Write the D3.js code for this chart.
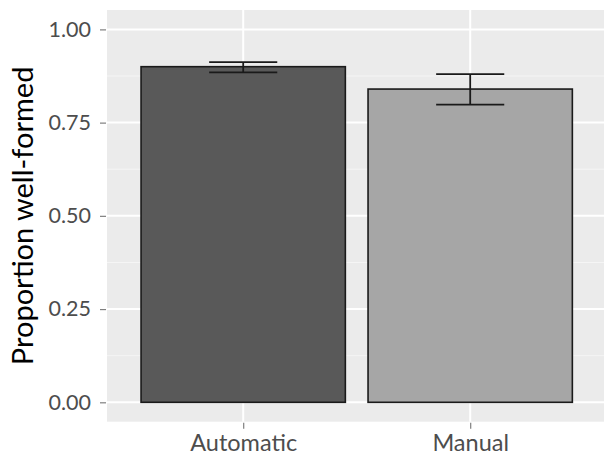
<!DOCTYPE html>
<html>
<head>
<meta charset="utf-8">
<script src="https://cdn.jsdelivr.net/npm/d3@7"></script>
<style>
  html, body { margin: 0; padding: 0; background: #fff; }
  svg { display: block; }
  text { font-family: Lato, "Open Sans", sans-serif; }
</style>
</head>
<body>
<svg id="chart" width="604" height="457"></svg>
<script>
// Proportion of well-formed items per condition, with error bar limits
const categories = ["Automatic", "Manual"];
const means = [0.900, 0.840];
const lower = [0.885, 0.798];
const upper = [0.912, 0.880];
const fills = ["#595959", "#a6a6a6"];
const yTicks = [0, 0.25, 0.5, 0.75, 1.0];
const yTickLabels = ["0.00", "0.25", "0.50", "0.75", "1.00"];
const yMinor = [0.125, 0.375, 0.625, 0.875];

const svg = d3.select("#chart");
const panel = { left: 107, top: 10, right: 606.4, bottom: 421.7 };

const x = d3.scaleLinear().domain([-0.6, categories.length - 0.4]).range([panel.left, panel.right]);
const y = d3.scaleLinear().domain([-0.052, 1.052]).range([panel.bottom, panel.top]);

// panel background
svg.append("rect")
  .attr("x", panel.left).attr("y", panel.top)
  .attr("width", panel.right - panel.left).attr("height", panel.bottom - panel.top)
  .attr("fill", "#ebebeb");

// grid lines
const grid = svg.append("g");
grid.selectAll(".minor").data(yMinor).join("line")
  .attr("x1", panel.left).attr("x2", panel.right)
  .attr("y1", d => y(d)).attr("y2", d => y(d))
  .attr("stroke", "#f5f5f5").attr("stroke-width", 1);
grid.selectAll(".major").data(yTicks).join("line")
  .attr("x1", panel.left).attr("x2", panel.right)
  .attr("y1", d => y(d)).attr("y2", d => y(d))
  .attr("stroke", "#ffffff").attr("stroke-width", 2);
grid.selectAll(".vmajor").data(categories).join("line")
  .attr("x1", (d, i) => x(i)).attr("x2", (d, i) => x(i))
  .attr("y1", panel.top).attr("y2", panel.bottom)
  .attr("stroke", "#ffffff").attr("stroke-width", 2);

// bars
const barW = x(0.9) - x(0);
svg.selectAll(".bar").data(categories).join("rect")
  .attr("x", (d, i) => x(i) - barW / 2)
  .attr("y", (d, i) => y(means[i]))
  .attr("width", barW)
  .attr("height", (d, i) => y(0) - y(means[i]))
  .attr("fill", (d, i) => fills[i])
  .attr("stroke", "#1a1a1a").attr("stroke-width", 1.6);

// error bars
const ebW = x(0.3) - x(0);
const eb = svg.selectAll(".eb").data(categories).join("g")
  .attr("stroke", "#1a1a1a").attr("stroke-width", 1.8).attr("fill", "none");
eb.append("line")
  .attr("x1", (d, i) => x(i)).attr("x2", (d, i) => x(i))
  .attr("y1", (d, i) => y(lower[i])).attr("y2", (d, i) => y(upper[i]));
eb.append("line")
  .attr("x1", (d, i) => x(i) - ebW / 2).attr("x2", (d, i) => x(i) + ebW / 2)
  .attr("y1", (d, i) => y(upper[i])).attr("y2", (d, i) => y(upper[i]));
eb.append("line")
  .attr("x1", (d, i) => x(i) - ebW / 2).attr("x2", (d, i) => x(i) + ebW / 2)
  .attr("y1", (d, i) => y(lower[i])).attr("y2", (d, i) => y(lower[i]));

// y axis
const yAxis = d3.axisLeft(y).tickValues(yTicks)
  .tickFormat((d, i) => yTickLabels[i]).tickSize(6).tickPadding(9);
const gy = svg.append("g").attr("transform", `translate(${panel.left - 1},0)`).call(yAxis);
gy.select(".domain").remove();
gy.selectAll(".tick line").attr("stroke", "#7f7f7f").attr("stroke-width", 1.2);
gy.selectAll(".tick text").attr("fill", "#4d4d4d").style("font-size", "21.5px")
  .attr("font-family", null);

// x axis
const xAxis = d3.axisBottom(x).tickValues(categories.map((d, i) => i))
  .tickFormat(i => categories[i]).tickSize(6).tickPadding(6);
const gx = svg.append("g").attr("transform", `translate(0,${panel.bottom + 1})`).call(xAxis);
gx.select(".domain").remove();
gx.selectAll(".tick line").attr("stroke", "#7f7f7f").attr("stroke-width", 1.2);
gx.selectAll(".tick text").attr("fill", "#4d4d4d").style("font-size", "23.5px")
  .attr("font-family", null);

// y axis title
svg.append("text")
  .attr("transform", `translate(33,${(panel.top + panel.bottom) / 2}) rotate(-90)`)
  .attr("text-anchor", "middle")
  .attr("fill", "#000")
  .style("font-size", "29px")
  .text("Proportion well-formed");
</script>
</body>
</html>
